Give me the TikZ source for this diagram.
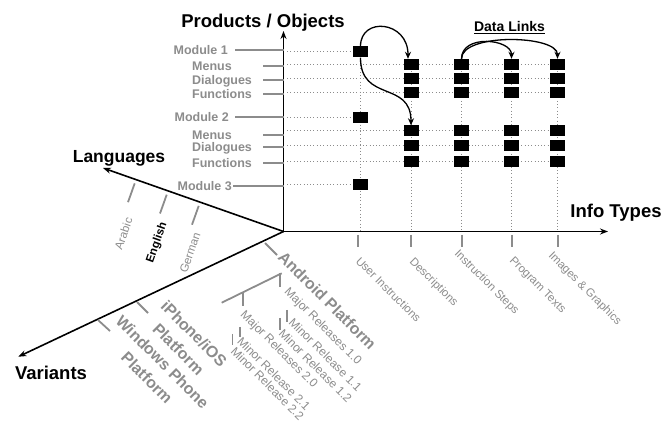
\documentclass[tikz,border=0pt]{standalone}
\usepackage{fontspec}
\setmainfont{Liberation Sans}
\usetikzlibrary{arrows.meta,calc,backgrounds}
\definecolor{lg}{RGB}{140,140,140}
\begin{document}
\begin{tikzpicture}[x=1pt,y=-1pt,
  axisline/.style={line width=1.6pt,-{Stealth[length=8pt,width=6pt]}},
  titletxt/.style={font=\fontsize{18.5}{20}\selectfont\bfseries,inner sep=0pt},
  modlab/.style={font=\fontsize{12.5}{14}\selectfont\bfseries,text=lg,inner sep=0pt},
  glab/.style={font=\fontsize{11.5}{13}\selectfont,text=lg,inner sep=0pt,rotate=-45,anchor=west},
  rellab/.style={font=\fontsize{12}{13}\selectfont,text=lg,inner sep=0pt,rotate=-45,anchor=west},
  langlab/.style={font=\fontsize{11.5}{13}\selectfont,text=lg,inner sep=0pt,rotate=70.6,anchor=east},
  platlab/.style={font=\fontsize{16}{22}\selectfont\bfseries,text=lg,inner sep=0pt,align=center,rotate=-45,anchor=west},
  gline/.style={draw=lg,line width=1.8pt},
  dotline/.style={draw=lg,line width=1pt,dash pattern=on 1pt off 2.3pt},
  cell/.style={fill=black,minimum width=15pt,minimum height=11pt,inner sep=0pt},
  linkarrow/.style={line width=1.3pt,-{Stealth[length=7pt,width=6pt]}},
]
\useasboundingbox (0,0) rectangle (664,427);

% origin and axis tips
\coordinate (O) at (283.5,231.5);
\coordinate (Ptip) at (283.5,31);
\coordinate (Itip) at (608,231.5);
\coordinate (Ltip) at (103,168);
\coordinate (Vtip) at (18.3,356.7);

% cells
\foreach \col/\cx in {D/411, I/461.5, P/511.5, G/557.5}
  \foreach \row/\ry in {r1/64.5, r2/79, r3/93, r4/131, r5/146, r6/162}
    \node[cell] (c-\col-\row) at (\cx,\ry) {};
\foreach \row/\ry in {m1/52, m2/117.5, m3/185}
  \node[cell] (c-U-\row) at (360.5,\ry) {};

% dotted grid
\begin{pgfonlayer}{background}
\foreach \row/\ry in {r1/64.5, r2/79, r3/93, r4/131, r5/146, r6/162}
  \draw[dotline] (287,\ry) -- (c-G-\row.center);
\foreach \row/\ry in {m1/52, m2/117.5, m3/185}
  \draw[dotline] (287,\ry) -- (c-U-\row.center);
\draw[dotline] (c-U-m1.center) -- (c-U-m1.center |- O);
\foreach \col in {D,I,P,G}
  \draw[dotline] (c-\col-r1.center) -- (c-\col-r1.center |- O);
\end{pgfonlayer}

% axes
\draw[axisline] (283.5,232.3) -- (Ptip);
\draw[axisline] (282.7,231.5) -- (Itip);
\draw[axisline] (O) -- (Ltip);
\draw[axisline] (O) -- (Vtip);
\node[titletxt,anchor=base] (prod) at (263,28) {Products / Objects};
\node[titletxt,anchor=base] (info) at (616,218) {Info Types};
\node[titletxt,anchor=base,font=\fontsize{17.5}{20}\selectfont\bfseries] (lang) at (119,163) {Languages};
\node[titletxt,anchor=base] (var) at (51,380) {Variants};

% product / object labels
\node[modlab,anchor=east] (mod1) at (228,50) {Module 1};
\draw[gline] (235,50) -- (O |- 235,50);
\node[modlab,anchor=base west] (men1) at (192,70.5) {Menus};
\draw[gline] (263,66) -- (O |- 263,66);
\node[modlab,anchor=base west] (dia1) at (192,84.5) {Dialogues};
\draw[gline] (263,80) -- (O |- 263,80);
\node[modlab,anchor=base west] (fun1) at (192,98.5) {Functions};
\draw[gline] (263,94) -- (O |- 263,94);
\node[modlab,anchor=east] (mod2) at (229,117) {Module 2};
\draw[gline] (235,117) -- (O |- 235,117);
\node[modlab,anchor=base west] (men2) at (192,139.5) {Menus};
\draw[gline] (263,135) -- (O |- 263,135);
\node[modlab,anchor=base west] (dia2) at (192,151.5) {Dialogues};
\draw[gline] (263,147) -- (O |- 263,147);
\node[modlab,anchor=base west] (fun2) at (192,167.5) {Functions};
\draw[gline] (263,163) -- (O |- 263,163);
\node[modlab,anchor=east] (mod3) at (232,186) {Module 3};
\draw[gline] (233,186) -- (O |- 233,186);

% info type ticks and labels
\foreach \tx/\lx/\ly/\txt/\nm in {357.7/358/259/User Instructions/ui, 411/411/260/Descriptions/de, 461.7/456/252/Instruction Steps/is, 512.3/511/259/Program Texts/pt, 557.7/550/254/Images \& Graphics/ig}
{
  \draw[gline] (\tx,235) -- (\tx,247);
  \node[glab] (l-\nm) at (\lx,\ly) {\txt};
}

% languages
\draw[gline] (134.7,183.4) -- (128,202.2);
\draw[gline] (166.7,194.7) -- (160,213.5);
\draw[gline] (198.7,205.9) -- (192,224.7);
\node[langlab] (arabic) at (129,218) {Arabic};
\node[langlab,text=black,font=\fontsize{11.5}{13}\selectfont\bfseries] (english) at (164,223) {English};
\node[langlab] (german) at (197,233) {German};

% variants
\draw[gline] (265,243) -- (277,255);
\draw[gline] (137,302) -- (148,313);
\draw[gline] (98,320) -- (110,331);
\node[platlab] (android) at (281,254) {Android Platform};
\node[platlab] (iphone) at (156,311) {iPhone/iOS\\Platform};
\node[platlab] (windows) at (111,326) {Windows Phone\\Platform};

% android releases
\draw[gline] (221.7,302.7) -- (281.7,273.3);
\draw[gline] (280,273.5) -- (280,287);
\draw[gline] (243,292) -- (243,306);
\draw[gline] (287,310) -- (287,322);
\draw[gline] (280,318) -- (280,330);
\draw[gline] (240,327) -- (240,337);
\draw[gline] (232.5,334) -- (232.5,345);
\node[rellab] (maj1) at (286,290) {Major Releases 1.0};
\node[rellab] (min11) at (291,320) {Minor Release 1.1};
\node[rellab] (min12) at (281,331.4) {Minor Release 1.2};
\node[rellab] (maj2) at (242,313) {Major Releases 2.0};
\node[rellab] (min21) at (239.5,339) {Minor Release 2.1};
\node[rellab] (min22) at (233,349) {Minor Release 2.2};

% data links
\node[font=\fontsize{14}{16}\selectfont\bfseries,inner sep=0pt,anchor=base] (dl) at (509.5,32) {\underline{Data Links}};
\draw[linkarrow] (c-U-m1.north) .. controls +(0,-30) and +(0,-38) .. ([xshift=-3pt]c-D-r1.north);
\draw[linkarrow] (c-U-m1.south) .. controls +(0,45) and +(0,-45) .. (c-D-r4.north);
\draw[linkarrow] (c-I-r1.north) .. controls +(0,-25) and +(0,-20) .. (c-P-r1.north);
\draw[linkarrow] (c-I-r1.north) .. controls +(0,-26) and +(0,-24) .. (c-G-r1.north);
\end{tikzpicture}
\end{document}
